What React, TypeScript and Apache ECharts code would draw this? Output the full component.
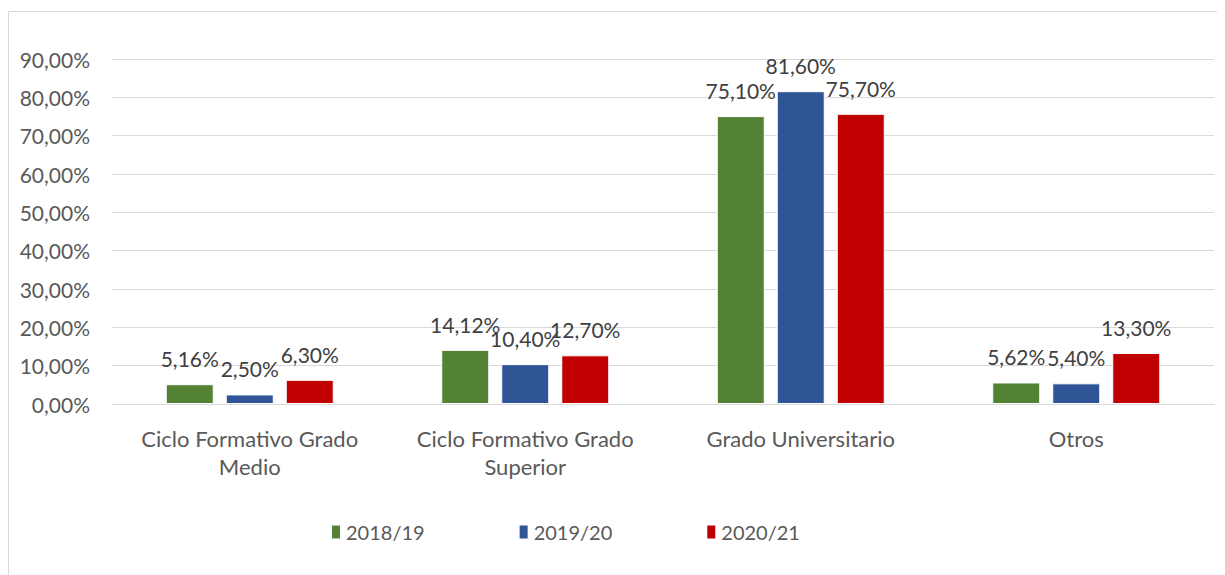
import React, { useEffect, useRef } from "react";
import * as echarts from "echarts";

const categories = [
  "Ciclo Formativo Grado\nMedio",
  "Ciclo Formativo Grado\nSuperior",
  "Grado Universitario",
  "Otros",
];
const seriesNames = ["2018/19", "2019/20", "2020/21"];
const values2018 = [5.16, 14.12, 75.1, 5.62];
const values2019 = [2.5, 10.4, 81.6, 5.4];
const values2020 = [6.3, 12.7, 75.7, 13.3];
const colors = ["#548235", "#2F5597", "#C00000"];
const yTicks = { min: 0, max: 90, interval: 10 };

const fmt = (v: number) => v.toFixed(2).replace(".", ",") + "%";
const FONT = "Lato, 'Open Sans', sans-serif";

export default function App() {
  const ref = useRef<HTMLDivElement>(null);
  useEffect(() => {
    if (!ref.current) return;
    const chart = echarts.init(ref.current, undefined, { renderer: "svg" });
    const all = [values2018, values2019, values2020];
    chart.setOption({
      animation: false,
      textStyle: { fontFamily: FONT },
      graphic: [
        {
          type: "rect",
          shape: { x: 0.5, y: 3.5, width: 1400, height: 700 },
          style: { fill: "none", stroke: "#d9d9d9", lineWidth: 1 },
          silent: true,
        },
      ],
      grid: { left: 104, right: 11, top: 51, bottom: 171, containLabel: false },
      legend: {
        data: seriesNames,
        top: 514,
        left: 322,
        padding: 0,
        itemWidth: 10,
        itemHeight: 15,
        itemGap: 93,
        icon: "rect",
        textStyle: { fontSize: 20, color: "#595959", fontFamily: FONT },
      },
      xAxis: {
        type: "category",
        data: categories,
        axisLine: { lineStyle: { color: "#d9d9d9", width: 1 } },
        axisTick: { show: false },
        axisLabel: {
          fontSize: 22,
          color: "#595959",
          lineHeight: 28,
          margin: 20,
          interval: 0,
        },
      },
      yAxis: {
        type: "value",
        min: yTicks.min,
        max: yTicks.max,
        interval: yTicks.interval,
        axisLine: { show: false },
        axisTick: { show: false },
        splitLine: { lineStyle: { color: "#d9d9d9", width: 1 } },
        axisLabel: {
          fontSize: 21,
          color: "#595959",
          margin: 22,
          formatter: (v: number) => fmt(v),
        },
      },
      series: all.map((vals, i) => ({
        name: seriesNames[i],
        type: "bar",
        data: vals,
        barWidth: 48,
        barGap: "25%",
        itemStyle: { color: colors[i], borderColor: "#ffffff", borderWidth: 1 },
        label: {
          show: true,
          position: "top",
          distance: 15,
          fontSize: 21,
          color: "#404040",
          formatter: (p: any) => fmt(p.value),
        },
      })),
    });
    return () => chart.dispose();
  }, []);
  return <div ref={ref} style={{ width: 1217, height: 567 }} />;
}
